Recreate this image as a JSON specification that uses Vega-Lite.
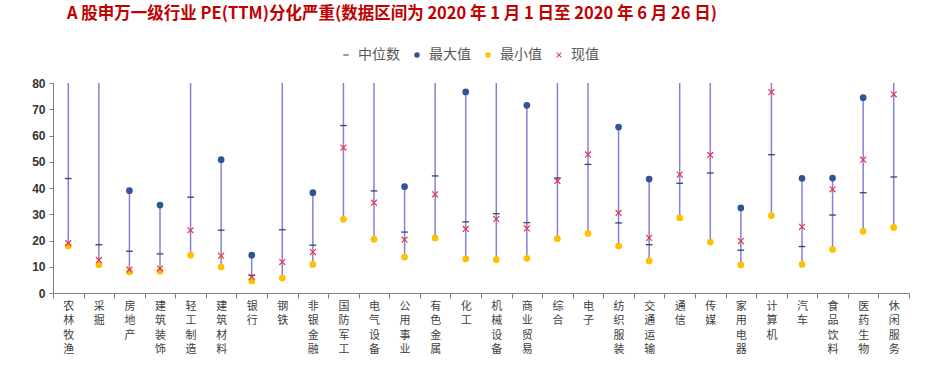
{
  "$schema": "https://vega.github.io/schema/vega-lite/v6.json",
  "width": 856,
  "height": 210,
  "autosize": {"type": "none"},
  "padding": {"left": 53, "top": 83, "right": 32, "bottom": 72},
  "background": "white",
  "title": {
    "text": "A 股申万一级行业 PE(TTM)分化严重(数据区间为 2020 年 1 月 1 日至 2020 年 6 月 26 日)",
    "anchor": "start",
    "frame": "group",
    "color": "#c00000",
    "fontSize": 16.5,
    "fontWeight": "bold",
    "font": "Noto Sans CJK SC",
    "dx": 14,
    "offset": 26
  },
  "data": {
    "values": [
      {"行业": "农林牧渔", "中位数": 43.6, "最大值": 100, "最小值": 17.9, "现值": 19.0},
      {"行业": "采掘", "中位数": 18.4, "最大值": 100, "最小值": 10.8, "现值": 12.5},
      {"行业": "房地产", "中位数": 15.9, "最大值": 39.0, "最小值": 8.0, "现值": 8.9},
      {"行业": "建筑装饰", "中位数": 14.9, "最大值": 33.5, "最小值": 8.3, "现值": 9.3},
      {"行业": "轻工制造", "中位数": 36.5, "最大值": 100, "最小值": 14.4, "现值": 23.9},
      {"行业": "建筑材料", "中位数": 23.9, "最大值": 50.8, "最小值": 9.9, "现值": 14.2},
      {"行业": "银行", "中位数": 6.7, "最大值": 14.4, "最小值": 4.6, "现值": 6.1},
      {"行业": "钢铁", "中位数": 24.1, "最大值": 100, "最小值": 5.7, "现值": 11.8},
      {"行业": "非银金融", "中位数": 18.2, "最大值": 38.2, "最小值": 10.9, "现值": 15.6},
      {"行业": "国防军工", "中位数": 63.8, "最大值": 100, "最小值": 28.1, "现值": 55.4},
      {"行业": "电气设备", "中位数": 38.9, "最大值": 100, "最小值": 20.5, "现值": 34.4},
      {"行业": "公用事业", "中位数": 23.2, "最大值": 40.5, "最小值": 13.7, "现值": 20.3},
      {"行业": "有色金属", "中位数": 44.6, "最大值": 100, "最小值": 21.0, "现值": 37.6},
      {"行业": "化工", "中位数": 27.1, "最大值": 76.6, "最小值": 13.0, "现值": 24.4},
      {"行业": "机械设备", "中位数": 30.2, "最大值": 100, "最小值": 12.7, "现值": 28.2},
      {"行业": "商业贸易", "中位数": 26.8, "最大值": 71.5, "最小值": 13.2, "现值": 24.6},
      {"行业": "综合", "中位数": 43.8, "最大值": 100, "最小值": 20.7, "现值": 42.7},
      {"行业": "电子", "中位数": 49.0, "最大值": 100, "最小值": 22.7, "现值": 52.8},
      {"行业": "纺织服装", "中位数": 26.7, "最大值": 63.2, "最小值": 17.9, "现值": 30.5},
      {"行业": "交通运输", "中位数": 18.4, "最大值": 43.4, "最小值": 12.2, "现值": 21.0},
      {"行业": "通信", "中位数": 41.8, "最大值": 100, "最小值": 28.6, "现值": 45.1},
      {"行业": "传媒", "中位数": 45.7, "最大值": 100, "最小值": 19.4, "现值": 52.6},
      {"行业": "家用电器", "中位数": 16.3, "最大值": 32.4, "最小值": 10.7, "现值": 19.8},
      {"行业": "计算机", "中位数": 52.7, "最大值": 100, "最小值": 29.5, "现值": 76.5},
      {"行业": "汽车", "中位数": 17.7, "最大值": 43.7, "最小值": 10.9, "现值": 25.2},
      {"行业": "食品饮料", "中位数": 29.7, "最大值": 43.8, "最小值": 16.6, "现值": 39.5},
      {"行业": "医药生物", "中位数": 38.2, "最大值": 74.4, "最小值": 23.5, "现值": 50.8},
      {"行业": "休闲服务", "中位数": 44.2, "最大值": 100, "最小值": 25.0, "现值": 75.7}
    ]
  },
  "encoding": {
    "x": {
      "field": "行业",
      "type": "nominal",
      "sort": null,
      "scale": {"type": "band", "paddingInner": 0, "paddingOuter": 0},
      "axis": {
        "title": null,
        "labelAngle": 0,
        "labelExpr": "split(datum.label, '')",
        "labelBaseline": "top",
        "labelAlign": "center",
        "labelFont": "Noto Sans CJK SC",
        "labelFontSize": 11,
        "labelLineHeight": 14.5,
        "labelColor": "#404040",
        "labelPadding": 2,
        "labelOverlap": false,
        "tickBand": "extent",
        "tickSize": 5,
        "tickColor": "#7f7f7f",
        "domainColor": "#7f7f7f"
      }
    }
  },
  "layer": [
    {
      "mark": {"type": "rule", "color": "#8a7fd6", "strokeWidth": 1.5, "clip": true},
      "encoding": {
        "y": {
          "field": "最小值",
          "type": "quantitative",
          "scale": {"domain": [0, 80]},
          "axis": {
            "title": null,
            "values": [0, 10, 20, 30, 40, 50, 60, 70, 80],
            "grid": false,
            "labelOverlap": false,
            "labelFont": "Liberation Sans",
            "labelFontSize": 12,
            "labelFontWeight": "bold",
            "labelColor": "#333333",
            "tickSize": 4,
            "tickColor": "#7f7f7f",
            "domainColor": "#7f7f7f",
            "labelPadding": 4
          }
        },
        "y2": {"field": "最大值"}
      }
    },
    {
      "transform": [{"fold": ["中位数", "最大值", "最小值", "现值"], "as": ["类型", "值"]}],
      "mark": {"type": "point", "filled": true, "opacity": 1, "size": 45, "clip": true},
      "encoding": {
        "y": {
          "field": "值",
          "type": "quantitative",
          "scale": {"domain": [0, 80]},
          "axis": {
            "title": null,
            "values": [0, 10, 20, 30, 40, 50, 60, 70, 80],
            "grid": false,
            "labelOverlap": false,
            "labelFont": "Liberation Sans",
            "labelFontSize": 12,
            "labelFontWeight": "bold",
            "labelColor": "#333333",
            "tickSize": 4,
            "tickColor": "#7f7f7f",
            "domainColor": "#7f7f7f",
            "labelPadding": 4
          }
        },
        "color": {
          "field": "类型",
          "type": "nominal",
          "scale": {
            "domain": ["中位数", "最大值", "最小值", "现值"],
            "range": ["#2f4b7c", "#2f5597", "#ffc000", "#e8354a"]
          },
          "legend": {
            "title": null,
            "orient": "none",
            "legendX": 286,
            "legendY": -35,
            "direction": "horizontal",
            "labelFont": "Noto Sans CJK SC",
            "labelFontSize": 14,
            "labelColor": "#595959",
            "symbolSize": 30,
            "columnPadding": 10,
            "labelOffset": 5
          }
        },
        "shape": {
          "field": "类型",
          "type": "nominal",
          "scale": {
            "domain": ["中位数", "最大值", "最小值", "现值"],
            "range": [
              "M-1,-0.2L1,-0.2L1,0.2L-1,0.2Z",
              "circle",
              "circle",
              "M-1,-0.75L-0.75,-1L0,-0.25L0.75,-1L1,-0.75L0.25,0L1,0.75L0.75,1L0,0.25L-0.75,1L-1,0.75L-0.25,0Z"
            ]
          },
          "legend": null
        }
      }
    }
  ],
  "config": {
    "view": {"stroke": null}
  }
}
